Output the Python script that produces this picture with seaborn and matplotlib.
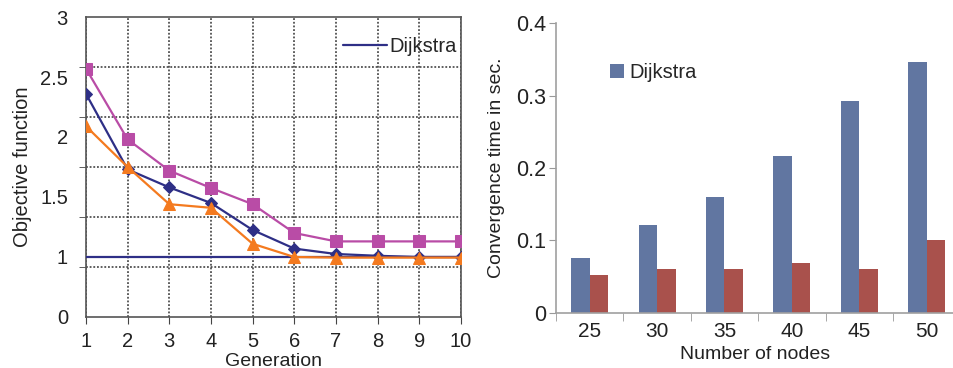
import numpy as np
import pandas as pd
import matplotlib
matplotlib.use("Agg")
import matplotlib.pyplot as plt
import seaborn as sns

# данные левого графика (значения целевой функции по поколениям)
generation = [1, 2, 3, 4, 5, 6, 7, 8, 9, 10]
dijkstra_obj = [1.0, 1.0, 1.0, 1.0, 1.0, 1.0, 1.0, 1.0, 1.0, 1.0]
navy_obj = [2.36, 1.73, 1.58, 1.45, 1.225, 1.07, 1.025, 1.01, 1.0, 1.0]
orange_obj = [2.09, 1.75, 1.44, 1.41, 1.11, 1.0, 0.99, 0.99, 0.99, 0.99]
magenta_obj = [2.57, 1.98, 1.72, 1.575, 1.44, 1.2, 1.13, 1.13, 1.13, 1.13]

# данные правого графика (время сходимости)
nodes = ["25", "30", "35", "40", "45", "50"]
dijkstra_time = [0.075, 0.121, 0.160, 0.216, 0.293, 0.346]
ga_time = [0.052, 0.060, 0.060, 0.068, 0.060, 0.100]

y_ticks_left = [0, 1, 1.5, 2, 2.5, 3]
y_ticks_right = [0, 0.1, 0.2, 0.3, 0.4]

NAVY = "#2e2f86"
ORANGE = "#f47a1f"
MAGENTA = "#b94ca6"
BAR_BLUE = "#5672ac"
BAR_RED = "#b8433d"
TXT = "#222222"

sns.set_style("white")
plt.rcParams["font.family"] = ["Liberation Sans", "DejaVu Sans"]

fig = plt.figure(figsize=(9.54, 3.68), dpi=100)
ax1 = fig.add_axes([0.0901, 0.1386, 0.3931, 0.8152])
ax2 = fig.add_axes([0.5828, 0.1503, 0.4172, 0.7864])

# ---- левый график ----
sns.lineplot(x=generation, y=dijkstra_obj, ax=ax1, color=NAVY, lw=1.6,
             label="Dijkstra", zorder=3)
sns.lineplot(x=generation, y=navy_obj, ax=ax1, color=NAVY, lw=1.6,
             marker="D", markersize=6.5, markeredgecolor=NAVY, zorder=4)
sns.lineplot(x=generation, y=orange_obj, ax=ax1, color=ORANGE, lw=1.6,
             marker="^", markersize=8.5, markeredgecolor=ORANGE, zorder=5)
sns.lineplot(x=generation, y=magenta_obj, ax=ax1, color=MAGENTA, lw=1.6,
             marker="s", markersize=9, markeredgecolor=MAGENTA, zorder=6)


# ось Y с изломом: 0..1 сжато, выше 1 шаг 0.5
def fwd(v):
    v = np.asarray(v, dtype=float)
    return np.where(v <= 1, v, 1 + (v - 1) * 2)


def inv(t):
    t = np.asarray(t, dtype=float)
    return np.where(t <= 1, t, 1 + (t - 1) / 2)


ax1.set_yscale("function", functions=(fwd, inv))
ax1.set_ylim(0, 3)
ax1.set_xlim(1, 10)

ax1.set_yticks(y_ticks_left)
ax1.set_yticklabels(["0", "1", "1.5", "2", "2.5", "3"])
grid_y = [0, 5 / 6, 4 / 3, 1.75, 13 / 6, 31 / 12, 3]
ax1.set_yticks(grid_y, minor=True)
ax1.set_xticks(generation)
ax1.tick_params(axis="y", which="major", length=0, pad=13, labelsize=14.5, colors=TXT)
ax1.tick_params(axis="y", which="minor", length=5, direction="out", color="#444444",
                left=True)
ax1.tick_params(axis="x", which="major", length=5, direction="out", color="#444444",
                bottom=True, pad=6, labelsize=14.5, labelcolor=TXT)
ax1.grid(False)
ax1.yaxis.grid(True, which="minor", color="#333333", ls=(0, (1.2, 1.2)), lw=1.1)
ax1.xaxis.grid(True, which="major", color="#333333", ls=(0, (1.2, 1.2)), lw=1.1)
for s in ax1.spines.values():
    s.set_color("#555555")
    s.set_linewidth(1.2)

ax1.set_xlabel("Generation", fontsize=14, color=TXT, labelpad=1)
ax1.set_ylabel("Objective function", fontsize=14.5, color=TXT, labelpad=6)
h, l = ax1.get_legend_handles_labels()
ax1.legend(h[:1], l[:1], loc="upper right", bbox_to_anchor=(1.02, 0.975), frameon=False,
           fontsize=14.5, handlelength=2.2, handletextpad=0.1, borderaxespad=0.2)

# ---- правый график ----
df = pd.DataFrame({
    "nodes": nodes * 2,
    "time": dijkstra_time + ga_time,
    "method": ["Dijkstra"] * len(nodes) + ["GA"] * len(nodes),
})
sns.barplot(data=df, x="nodes", y="time", hue="method", order=nodes,
            palette=[BAR_BLUE, BAR_RED], width=0.55, gap=0, linewidth=0,
            ax=ax2)
ax2.set_xlim(-0.5, 5.405)
ax2.set_ylim(0, 0.4)
ax2.set_yticks(y_ticks_right)
ax2.set_yticklabels(["0", "0.1", "0.2", "0.3", "0.4"])
ax2.set_xticks([-0.5, 0.5, 1.5, 2.5, 3.5, 4.5], minor=True)
ax2.tick_params(axis="x", which="major", length=0, pad=7, labelsize=15, labelcolor=TXT)
ax2.tick_params(axis="x", which="minor", length=6, direction="out", color="#999999",
                bottom=True)
ax2.tick_params(axis="y", length=5, direction="out", color="#999999", left=True,
                pad=2, labelsize=15.5, labelcolor=TXT)
for side in ["top", "right"]:
    ax2.spines[side].set_visible(False)
for side in ["left", "bottom"]:
    ax2.spines[side].set_color("#a0a0a0")
    ax2.spines[side].set_linewidth(1.2)
ax2.grid(False)
ax2.set_xlabel("Number of nodes", fontsize=14, color=TXT, labelpad=3)
ax2.set_ylabel("Convergence time in sec.", fontsize=14, color=TXT, labelpad=8)
h, l = ax2.get_legend_handles_labels()
ax2.legend(h[:1], l[:1], loc="upper left", bbox_to_anchor=(0.09, 0.925), frameon=False,
           fontsize=14.5, handlelength=0.7, handleheight=0.7, handletextpad=0.25)

fig.savefig("out.png", dpi=100)
